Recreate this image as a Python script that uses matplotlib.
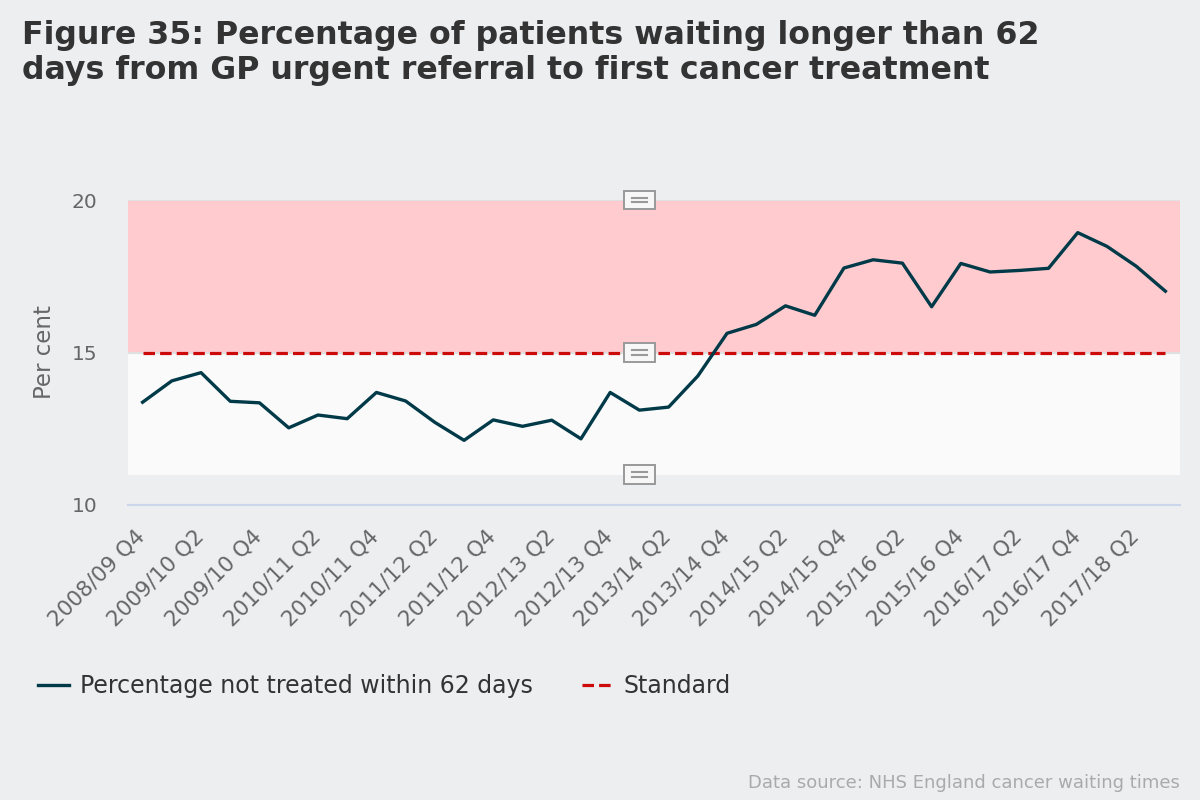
import matplotlib
matplotlib.use("Agg")
import matplotlib.pyplot as plt
import matplotlib.transforms as mtransforms
from matplotlib.offsetbox import AnnotationBbox, DrawingArea
from matplotlib.patches import Rectangle
from matplotlib.lines import Line2D

plt.rcParams['font.family'] = ['DejaVu Sans']

# quarters from 2008/09 Q4 to 2017/18 Q3
years = ["2008/09", "2009/10", "2010/11", "2011/12", "2012/13",
         "2013/14", "2014/15", "2015/16", "2016/17", "2017/18"]
quarters = ["2008/09 Q4"]
for y in years[1:]:
    for q in ["Q1", "Q2", "Q3", "Q4"]:
        quarters.append(y + " " + q)
quarters = quarters[:36]

not_treated = [13.37, 14.07, 14.34, 13.40, 13.35, 12.53, 12.95, 12.83, 13.69,
               13.41, 12.71, 12.12, 12.79, 12.58, 12.78, 12.17, 13.69, 13.11,
               13.21, 14.23, 15.63, 15.92, 16.53, 16.22, 17.77, 18.04, 17.93,
               16.50, 17.92, 17.64, 17.69, 17.76, 18.93, 18.48, 17.83, 17.01]
standard = [15] * len(quarters)

bg = "#eceef0"
fig = plt.figure(figsize=(12, 8), dpi=100, facecolor=bg)
ax = fig.add_axes([128/1200, 1-505/800, (1180-128)/1200, (505-200)/800])
ax.set_facecolor(bg)

x = list(range(len(quarters)))

# shaded bands
ax.axhspan(15, 20, color="#ffcbcf", zorder=0, lw=0)
ax.axhspan(11, 15, color="#fafafa", zorder=0, lw=0)
ax.axhline(20, color="#e0e0e0", lw=1.5, zorder=0.5)
ax.axhline(15, color="#e0e0e0", lw=1.5, zorder=0.5)

ax.plot(x, standard, color="#cc0a0a", lw=2.3, dashes=(3.6, 1.6),
        label="Standard", zorder=3)
ax.plot(x, not_treated, color="#003a48", lw=2.4,
        label="Percentage not treated within 62 days", zorder=4)

# little annotation icons in the middle of the plot
icon_levels = [20, 15, 11]
icon_x = 17
for lv in icon_levels:
    da = DrawingArea(22, 13, 0, 0)
    da.add_artist(Rectangle((0, 0), 22, 13, fc="#f7f7f7", ec="#999999", lw=1.4))
    da.add_artist(Line2D([5.5, 16.5], [8, 8], color="#999999", lw=1.5))
    da.add_artist(Line2D([5.5, 16.5], [5, 5], color="#999999", lw=1.5))
    ab = AnnotationBbox(da, (icon_x, lv), frameon=False, pad=0,
                        box_alignment=(0.5, 0.5), zorder=5)
    ax.add_artist(ab)

ax.set_xlim(-0.5, len(quarters) - 0.5)
ax.set_ylim(10, 20)
ax.set_yticks([10, 15, 20])
ax.set_xticks(x[::2])
ax.tick_params(axis="x", length=0, pad=9)
ax.tick_params(axis="y", length=0, pad=22, labelsize=14.5, labelcolor="#666666")
ax.set_xticklabels(quarters[::2], rotation=45, ha="right", rotation_mode="anchor",
                   fontsize=15.5, color="#666666")
# nudge the rotated labels down-left like the original
shift = mtransforms.ScaledTranslation(-0.075, -0.09, fig.dpi_scale_trans)
for lab in ax.get_xticklabels():
    lab.set_transform(lab.get_transform() + shift)
for s in ["top", "right", "left"]:
    ax.spines[s].set_visible(False)
ax.spines["bottom"].set_color("#ccd6eb")
ax.spines["bottom"].set_linewidth(1.5)
ax.set_ylabel("Per cent", fontsize=16.5, color="#666666", labelpad=11)

fig.text(22/1200, 1-53/800,
         "Figure 35: Percentage of patients waiting longer than 62\n"
         "days from GP urgent referral to first cancer treatment",
         fontsize=22.8, fontweight="bold", color="#333333", va="center",
         linespacing=1.17)

handles, labels = ax.get_legend_handles_labels()
fig.legend(handles[::-1], labels[::-1], loc="center left",
           bbox_to_anchor=(0.024, 1-686/800), ncol=2, frameon=False,
           fontsize=17, labelcolor="#333333", handlelength=1.3,
           columnspacing=2.1, handletextpad=0.45, borderaxespad=0)

fig.text(1180/1200, 1-783/800, "Data source: NHS England cancer waiting times",
         ha="right", va="center", fontsize=13.0, color="#aaaaaa")

fig.savefig("out.png", dpi=100, facecolor=bg)
